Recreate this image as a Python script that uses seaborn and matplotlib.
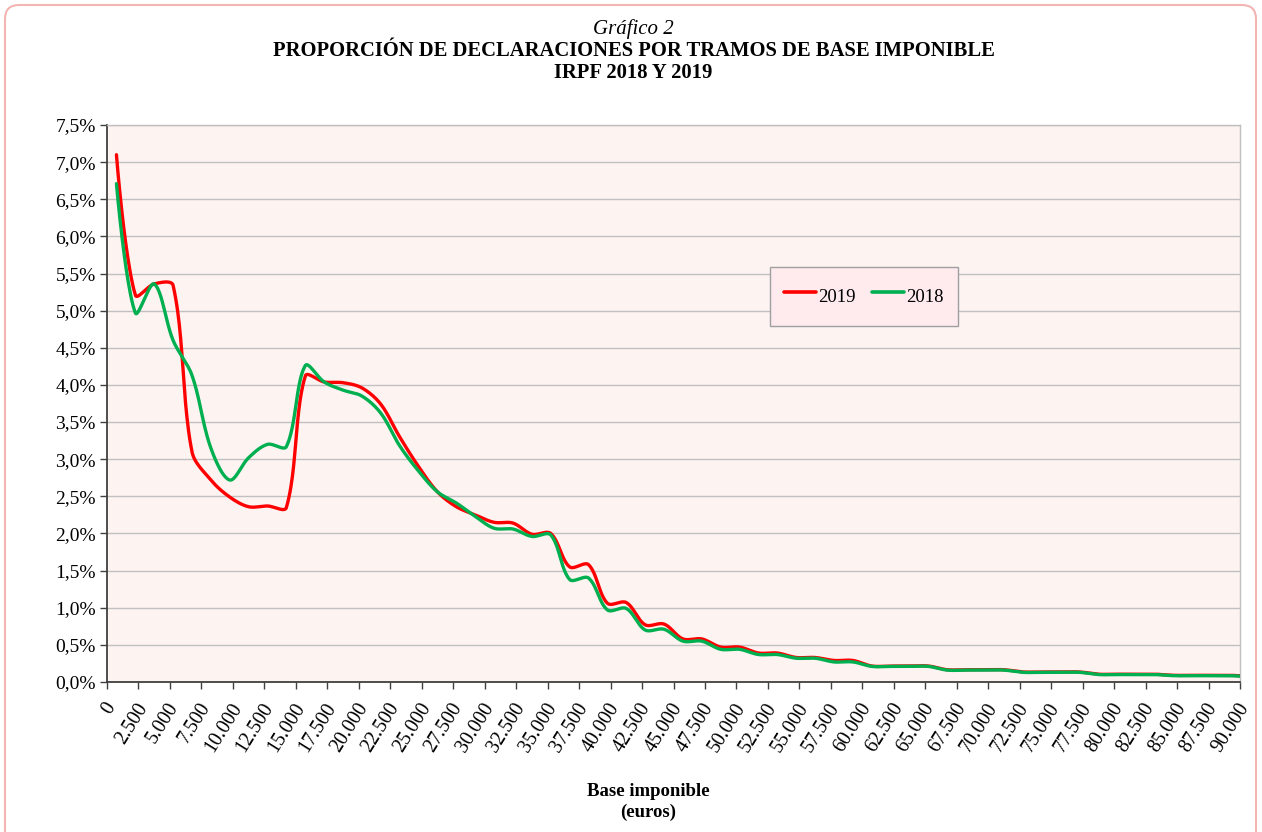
import numpy as np
import pandas as pd
import seaborn as sns
import matplotlib
matplotlib.use("Agg")
import matplotlib.pyplot as plt
import matplotlib.transforms as mtransforms
from matplotlib.lines import Line2D
from matplotlib.patches import FancyBboxPatch
from matplotlib.ticker import FuncFormatter, MultipleLocator

# --------------------------------------------------------------------------
# Datos: % de declaraciones por tramo de 1.500 euros
# --------------------------------------------------------------------------
centros_tramo = list(range(750, 91500, 1500))  # punto medio de cada tramo

pct_2019 = [7.10, 5.21, 5.36, 5.34, 3.10, 2.72, 2.49, 2.36, 2.37, 2.35,
            4.12, 4.04, 4.03, 3.96, 3.74, 3.30, 2.90, 2.56, 2.36, 2.25,
            2.15, 2.14, 1.99, 2.00, 1.55, 1.58, 1.06, 1.07, 0.77, 0.78,
            0.58, 0.58, 0.47, 0.47, 0.39, 0.39, 0.33, 0.33, 0.29, 0.29,
            0.215, 0.215, 0.215, 0.215, 0.165, 0.165, 0.165, 0.165, 0.135, 0.135,
            0.135, 0.135, 0.105, 0.105, 0.105, 0.105, 0.09, 0.09, 0.09, 0.09,
            0.075]

pct_2018 = [6.71, 4.97, 5.36, 4.60, 4.13, 3.15, 2.72, 3.02, 3.20, 3.17,
            4.26, 4.04, 3.93, 3.85, 3.62, 3.18, 2.84, 2.56, 2.41, 2.23,
            2.07, 2.06, 1.96, 1.98, 1.38, 1.40, 0.97, 0.99, 0.70, 0.71,
            0.55, 0.55, 0.44, 0.44, 0.37, 0.37, 0.32, 0.32, 0.27, 0.27,
            0.21, 0.21, 0.21, 0.21, 0.16, 0.16, 0.16, 0.16, 0.13, 0.13,
            0.13, 0.13, 0.10, 0.10, 0.10, 0.10, 0.085, 0.085, 0.085, 0.085,
            0.07]

series = {"2019": pct_2019, "2018": pct_2018}
colores = {"2019": "#FF0000", "2018": "#00B050"}


def suavizar(x, y, pasos=24, tension=1 / 3):
    """Línea suavizada al estilo Excel: Bezier con puntos de control
    ponderados por la longitud de cada tramo (en píxeles aproximados)."""
    sx, sy = 1133 / 90000, 557 / 7.5
    P = np.column_stack([np.asarray(x, float) * sx, np.asarray(y, float) * sy])
    n = len(P)
    d = np.linalg.norm(np.diff(P, axis=0), axis=1)
    c_sal = P.copy()
    c_ent = P.copy()
    for i in range(1, n - 1):
        tang = P[i + 1] - P[i - 1]
        tot = d[i - 1] + d[i]
        c_ent[i] = P[i] - tension * d[i - 1] / tot * tang
        c_sal[i] = P[i] + tension * d[i] / tot * tang
    s = np.linspace(0, 1, pasos, endpoint=False)[:, None]
    trozos = []
    for i in range(n - 1):
        b = ((1 - s) ** 3 * P[i] + 3 * (1 - s) ** 2 * s * c_sal[i]
             + 3 * (1 - s) * s ** 2 * c_ent[i + 1] + s ** 3 * P[i + 1])
        trozos.append(b)
    trozos.append(P[-1:])
    curva = np.vstack(trozos)
    return curva[:, 0] / sx, curva[:, 1] / sy


frames = []
for nombre, valores in series.items():
    xs, ys = suavizar(centros_tramo, valores)
    frames.append(pd.DataFrame({"base": xs, "pct": ys, "serie": nombre}))
df = pd.concat(frames, ignore_index=True)

# --------------------------------------------------------------------------
# Estilo
# --------------------------------------------------------------------------
sns.set_style("white")
plt.rcParams["font.family"] = ["Liberation Serif", "DejaVu Serif"]
plt.rcParams["text.color"] = "black"
plt.rcParams["xtick.color"] = "black"
plt.rcParams["ytick.color"] = "black"

fig = plt.figure(figsize=(12.62, 8.32), dpi=100)
ax = fig.add_axes([107 / 1262, 1 - 682 / 832, (1240 - 107) / 1262, (682 - 125) / 832])
ax.set_facecolor("#FDF3F1")

# marco exterior redondeado
marco = FancyBboxPatch((5, -30), 1251, 857, boxstyle="round,pad=0,rounding_size=14",
                       transform=None, facecolor="none", edgecolor="#F4B4B4", linewidth=1.5)
fig.patches.append(marco)

# primero 2019 (rojo) y encima 2018 (verde), como en el original
for nombre in ["2019", "2018"]:
    sns.lineplot(data=df[df["serie"] == nombre], x="base", y="pct", color=colores[nombre],
                 linewidth=2.4, estimator=None, sort=False, legend=False, ax=ax, zorder=3)

ax.set_xlim(0, 90000)
ax.set_ylim(0, 7.5)
ax.xaxis.set_major_locator(MultipleLocator(2500))
ax.yaxis.set_major_locator(MultipleLocator(0.5))
ax.xaxis.set_major_formatter(FuncFormatter(lambda v, p: f"{int(round(v)):,}".replace(",", ".")))
ax.yaxis.set_major_formatter(FuncFormatter(lambda v, p: f"{v:.1f}".replace(".", ",") + "%"))
ax.grid(axis="y", color="#C0C0C0", linewidth=1.0)
ax.set_axisbelow(True)

for lado in ["left", "bottom"]:
    ax.spines[lado].set_color("#404040")
    ax.spines[lado].set_linewidth(1.3)
for lado in ["top", "right"]:
    ax.spines[lado].set_color("#BFBFBF")
    ax.spines[lado].set_linewidth(1.0)

ax.tick_params(axis="y", direction="out", length=5, width=1, color="#404040",
               labelsize=14, pad=3, left=True)
ax.tick_params(axis="x", direction="out", length=5, width=1, color="#404040",
               labelsize=14.3, pad=9, bottom=True)
desplaza = mtransforms.ScaledTranslation(5 / 100, -3 / 100, fig.dpi_scale_trans)
for lbl in ax.get_xticklabels():
    lbl.set_rotation(58)
    lbl.set_ha("right")
    lbl.set_va("center")
    lbl.set_rotation_mode("anchor")
    lbl.set_transform(lbl.get_transform() + desplaza)

ax.set_xlabel("")
ax.set_ylabel("")

# leyenda
manejadores = [Line2D([], [], color=colores[s], linewidth=2.6) for s in ["2019", "2018"]]
leyenda = ax.legend(manejadores, ["2019", "2018"], loc="center", bbox_to_anchor=(0.668, 0.692),
                    ncol=2, frameon=True, fancybox=False, fontsize=13.5, handlelength=1.7,
                    handleheight=2.1, handletextpad=0.15, columnspacing=0.85, borderpad=0.75)
leyenda.get_frame().set_facecolor("#FFEAEE")
leyenda.get_frame().set_edgecolor("#A0A0A0")
leyenda.get_frame().set_alpha(1)

# títulos
fig.text(0.502, 1 - 29 / 832, "Gráfico 2", ha="center", va="center", fontsize=15, style="italic")
fig.text(0.502, 1 - 51 / 832, "PROPORCIÓN DE DECLARACIONES POR TRAMOS DE BASE IMPONIBLE",
         ha="center", va="center", fontsize=14.9, weight="bold")
fig.text(0.502, 1 - 73 / 832, "IRPF 2018 Y 2019", ha="center", va="center", fontsize=14.9, weight="bold")
fig.text(0.5135, 1 - 791 / 832, "Base imponible", ha="center", va="center", fontsize=13.5, weight="bold")
fig.text(0.5135, 1 - 812 / 832, "(euros)", ha="center", va="center", fontsize=13.5, weight="bold")

fig.savefig("out.png", dpi=100)
